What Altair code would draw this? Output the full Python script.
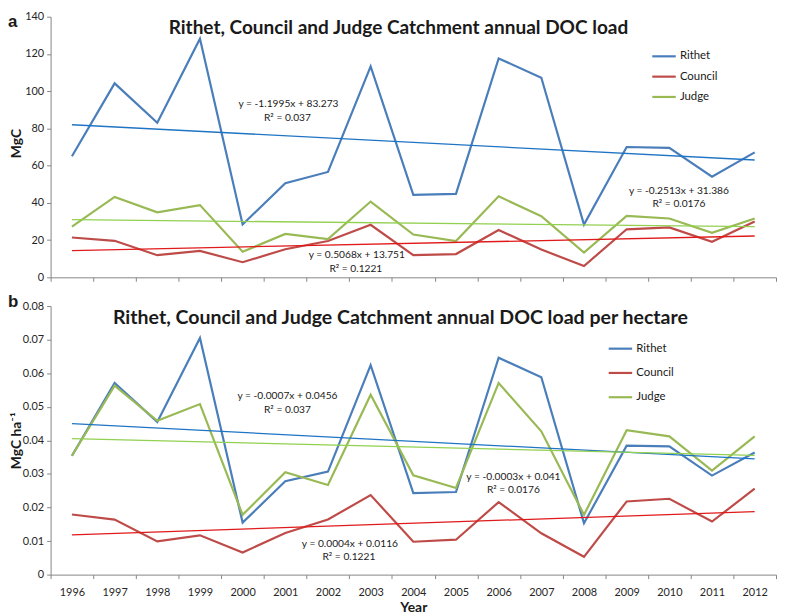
import altair as alt
import pandas as pd

# ---------------- data ----------------
years = list(range(1996, 2013))
series_names = ["Rithet", "Council", "Judge"]

rithet_load = [65.0, 104.2, 83.0, 128.2, 28.4, 50.6, 56.6, 113.3, 44.3, 44.8, 117.6, 107.2, 28.3, 70.0, 69.5, 54.1, 67.1]
council_load = [21.4, 19.6, 11.9, 14.2, 8.1, 15.1, 19.5, 28.2, 11.9, 12.5, 25.4, 14.9, 6.1, 25.8, 26.8, 19.1, 30.0]
judge_load = [27.2, 43.2, 34.9, 38.8, 13.7, 23.3, 20.5, 40.7, 23.0, 19.5, 43.5, 32.8, 13.3, 33.0, 31.6, 23.9, 31.6]

rithet_ha = [0.0354, 0.0571, 0.0455, 0.0705, 0.0155, 0.0278, 0.0307, 0.0624, 0.0243, 0.0246, 0.0646, 0.0588, 0.0153, 0.0384, 0.0382, 0.0295, 0.0364]
council_ha = [0.0179, 0.0164, 0.0099, 0.0117, 0.0066, 0.0124, 0.0164, 0.0237, 0.0098, 0.0104, 0.0216, 0.0123, 0.0053, 0.0218, 0.0226, 0.0158, 0.0256]
judge_ha = [0.0354, 0.0563, 0.0458, 0.0508, 0.0178, 0.0305, 0.0267, 0.0536, 0.0296, 0.0258, 0.0571, 0.0427, 0.0178, 0.0430, 0.0412, 0.0310, 0.0412]

ticks_a = [0, 20, 40, 60, 80, 100, 120, 140]
ticks_b = [0, 0.01, 0.02, 0.03, 0.04, 0.05, 0.06, 0.07, 0.08]

title_a = "Rithet, Council and Judge Catchment annual DOC load"
title_b = "Rithet, Council and Judge Catchment annual DOC load per hectare"
ytitle_a = "MgC"
ytitle_b = "MgC ha\u207b\u00b9"
xtitle = "Year"

eq_a = ["y = -1.1995x + 83.273", "R\u00b2 = 0.037",
        "y = 0.5068x + 13.751", "R\u00b2 = 0.1221",
        "y = -0.2513x + 31.386", "R\u00b2 = 0.0176"]
eq_b = ["y = -0.0007x + 0.0456", "R\u00b2 = 0.037",
        "y = 0.0004x + 0.0116", "R\u00b2 = 0.1221",
        "y = -0.0003x + 0.041", "R\u00b2 = 0.0176"]

# ---------------- style ----------------
FONT = "Lato"
line_colors = ["#4A7EBB", "#BE4B48", "#98B954"]
trend_colors = ["#1F74C4", "#E01A1A", "#92D050"]
trend_names = [s + " trend" for s in series_names]
color_scale = alt.Scale(domain=series_names + trend_names, range=line_colors + trend_colors)

W = 732


def long_df(vals):
    rows = []
    for name, v in zip(series_names, vals):
        for yr, val in zip(years, v):
            rows.append({"year": yr, "series": name, "value": val})
    return pd.DataFrame(rows)


def text_layer(txt, px, py, size=10.3, weight="normal", align="center", angle=0, font=FONT,
               baseline="middle"):
    kw = dict(text=txt, font=font, fontSize=size, fontWeight=weight, align=align,
              baseline=baseline, color="#1a1a1a")
    if angle:
        kw["angle"] = angle
    return alt.Chart(alt.Data(values=[{"k": 1}])).mark_text(**kw).encode(
        x=alt.value(px), y=alt.value(py)
    )


def panel(vals, ymax, yticks, label_expr, show_x, height, title, title_size, title_x, title_y,
          ytitle, ytitle_x, ytitle_y, letter, letter_y, eqs, eq_pos, leg_x, leg_y, leg_rowpad):
    df = long_df(vals)
    base = alt.Chart(df)
    if show_x:
        x_axis = alt.Axis(tickBand="extent", labelAngle=0, labelPadding=8,
                          titleFont=FONT, titleFontSize=14, titleFontWeight="bold",
                          titlePadding=3, titleColor="#1a1a1a")
        x_title = xtitle
    else:
        x_axis = alt.Axis(tickBand="extent", labels=False)
        x_title = None
    x = alt.X("year:O", scale=alt.Scale(type="band", paddingInner=0, paddingOuter=0),
              axis=x_axis, title=x_title)
    y = alt.Y("value:Q", scale=alt.Scale(domain=[0, ymax], nice=False),
              axis=alt.Axis(values=yticks, labelExpr=label_expr, labelPadding=3), title=None)
    leg = alt.Legend(orient="none", legendX=leg_x, legendY=leg_y, values=series_names,
                     title=None, symbolType="stroke", symbolSize=560, symbolStrokeWidth=2.2,
                     labelFont=FONT, labelFontSize=11.5, labelColor="#1a1a1a",
                     rowPadding=leg_rowpad, padding=0, labelOffset=3)
    lines = base.mark_line(strokeWidth=2.2).encode(
        x=x, y=y, color=alt.Color("series:N", scale=color_scale, legend=leg)
    )
    trend = base.transform_regression(
        "year", "value", groupby=["series"]
    ).transform_calculate(kind="datum.series + ' trend'").mark_line(strokeWidth=1.3).encode(
        x=x, y=y, color=alt.Color("kind:N", scale=color_scale, legend=leg)
    )
    layers = [lines, trend,
              text_layer(title, title_x, title_y, size=title_size, weight="bold",
                         baseline="alphabetic"),
              text_layer(ytitle, ytitle_x, ytitle_y, size=14, weight="bold", angle=270),
              text_layer(letter, -43, letter_y, size=17, weight="bold", align="left",
                         font="Liberation Sans", baseline="alphabetic")]
    for t, (px, py) in zip(eqs, eq_pos):
        layers.append(text_layer(t, px, py))
    return alt.layer(*layers).properties(width=W, height=height)


label_a = "datum.value"
label_b = "datum.value == 0 ? '0' : format(datum.value, '.2f')"

pos_a = [(240, 88), (239, 102), (309, 241), (308, 255), (634, 176), (634, 189)]
pos_b = [(239, 91), (239, 105), (302, 240), (301, 253), (467, 173), (467, 186)]

pa = panel([rithet_load, council_load, judge_load], 140, ticks_a, label_a, False, 263,
           title_a, 19.2, 351, 17, ytitle_a, -34, 128, "a", 10, eq_a, pos_a, 606, 27, 1.5)
pb = panel([rithet_ha, council_ha, judge_ha], 0.08, ticks_b, label_b, True, 271,
           title_b, 19.7, 353, 18, ytitle_b, -34, 136, "b", 1, eq_b, pos_b, 562, 30, 5.5)

chart = alt.vconcat(pa, pb, spacing=11).resolve_legend(color="independent").properties(
    padding={"left": 0, "top": 0, "right": 0, "bottom": 0}
).configure_view(stroke=None).configure_axis(
    grid=False, domainColor="#868686", tickColor="#868686", tickSize=4,
    labelFont=FONT, labelFontSize=11, labelColor="#262626"
)

chart.save("out.html", embed_options={"renderer": "svg", "actions": False})
